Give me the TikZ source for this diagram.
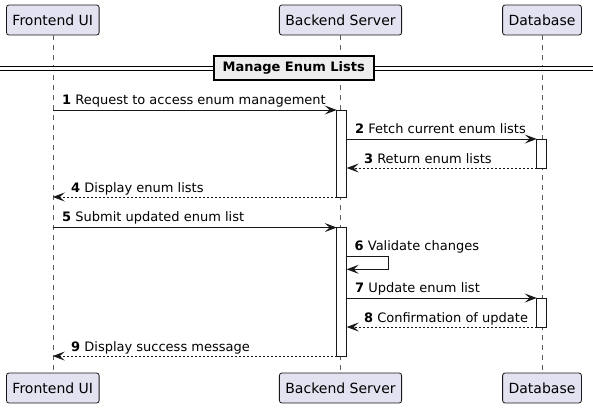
\documentclass[tikz,border=0pt]{standalone}
\usepackage{fontspec}
\setmainfont{DejaVu Sans}
\usepackage{xcolor}
\usetikzlibrary{arrows.meta}

\definecolor{partfill}{HTML}{E2E2F0}
\definecolor{umlline}{HTML}{181818}
\definecolor{divfill}{HTML}{EEEEEE}

\begin{document}
\begin{tikzpicture}[x=1pt, y=-1pt, every node/.style={font=\fontsize{13}{15}\selectfont}]
    \tikzset{participant/.style={draw=umlline, fill=partfill, line width=0.8pt, rounded corners=2.5pt,
                 minimum height=30pt, inner xsep=6pt, font=\fontsize{14}{16}\selectfont},
             lifeline/.style={draw=umlline!70, line width=0.5pt, dash pattern=on 5pt off 5pt},
             actbar/.style={draw=umlline, fill=white, line width=0.8pt, minimum width=10pt,
                 inner sep=0pt, outer sep=0pt},
             msg/.style={draw=umlline, line width=0.8pt, -{Stealth[length=12pt, width=9pt, inset=5pt]}},
             ret/.style={msg, dash pattern=on 2pt off 2pt},
             lbl/.style={anchor=base west, inner sep=0pt}}

    \useasboundingbox (0,0) rectangle (593,408);

    % participants
    \node[participant] (fe) at (52.8,20) {Frontend UI};
    \node[participant] (be) at (340.5,20) {Backend Server};
    \node[participant] (db) at (542,20) {Database};
    \node[participant] (fe2) at (52.8,388) {Frontend UI};
    \node[participant] (be2) at (340.5,388) {Backend Server};
    \node[participant] (db2) at (542,388) {Database};

    \draw[lifeline] (fe) -- (fe2);
    \draw[lifeline] (be) -- (be2);
    \draw[lifeline] (db) -- (db2);

    % divider
    \coordinate (dl) at (0,68);
    \coordinate (dr) at (593,68);
    \draw[line width=1pt, double=white, double distance=3pt] (dl) -- (dr);
    \node[draw=black, fill=divfill, line width=1.8pt, minimum width=160pt, minimum height=24pt,
          font=\fontsize{13}{15}\selectfont\bfseries] (div) at (293.7,68) {Manage Enum Lists};

    % activations
    \node[actbar, minimum height=87pt] (act1) at (341.7,153.5) {};
    \node[actbar, minimum height=128.5pt] (act2) at (341.7,291.8) {};
    \node[actbar, minimum height=29pt] (dba1) at (541.7,153.5) {};
    \node[actbar, minimum height=29pt] (dba2) at (541.7,312.5) {};

    % messages
    \draw[msg] (fe |- act1.north west) -- (act1.north west)
        node[lbl, pos=0, xshift=9pt, yshift=6pt] {\textbf{1} Request to access enum management};
    \draw[msg] (act1.east |- dba1.north west) -- (dba1.north west)
        node[lbl, pos=0, xshift=8pt, yshift=6pt] {\textbf{2} Fetch current enum lists};
    \draw[ret] (dba1.south west) -- (act1.east |- dba1.south west)
        node[lbl, pos=1, xshift=17pt, yshift=5pt] {\textbf{3} Return enum lists};
    \draw[ret] (act1.south west) -- (fe |- act1.south west)
        node[lbl, pos=1, xshift=18pt, yshift=5pt] {\textbf{4} Display enum lists};
    \draw[msg] (fe |- act2.north west) -- (act2.north west)
        node[lbl, pos=0, xshift=9pt, yshift=6pt] {\textbf{5} Submit updated enum list};

    \coordinate (m6a) at (346.7,256.7);
    \coordinate (m6b) at (346.7,269.3);
    \draw[msg] (m6a) -- ++(41.3,0) |- (m6b);
    \node[lbl] (m6) at (354.5,250.7) {\textbf{6} Validate changes};

    \draw[msg] (act2.east |- dba2.north west) -- (dba2.north west)
        node[lbl, pos=0, xshift=8pt, yshift=6pt] {\textbf{7} Update enum list};
    \draw[ret] (dba2.south west) -- (act2.east |- dba2.south west)
        node[lbl, pos=1, xshift=17pt, yshift=5pt] {\textbf{8} Confirmation of update};
    \draw[ret] (act2.south west) -- (fe |- act2.south west)
        node[lbl, pos=1, xshift=18pt, yshift=5pt] {\textbf{9} Display success message};
\end{tikzpicture}
\end{document}
